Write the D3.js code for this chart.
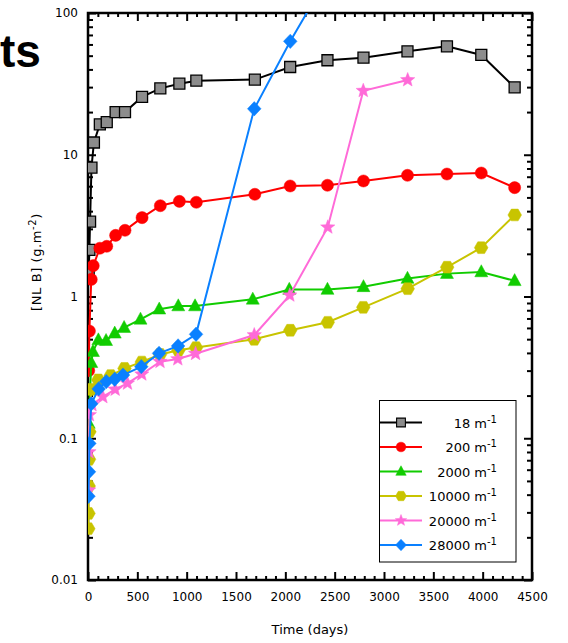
<!DOCTYPE html>
<html>
<head>
<meta charset="utf-8">
<script src="https://cdn.jsdelivr.net/npm/d3@7"></script>
<style>
  html, body { margin: 0; padding: 0; background: #fff; }
  svg { display: block; }
  text { font-family: "DejaVu Sans", Verdana, sans-serif; }
</style>
</head>
<body>
<svg id="chart" width="568" height="643"></svg>
<script>
// NL B accumulation over time for six specific-surface values
const seriesNames = ["18", "200", "2000", "10000", "20000", "28000"];

const days18  = [7, 14, 21, 35, 60, 120, 190, 280, 375, 548, 733, 926, 1098, 1691, 2049, 2427, 2792, 3238, 3638, 3986, 4324];
const vals18  = [1.44, 2.13, 3.37, 8.1, 12.2, 16.4, 17.0, 20.0, 20.0, 25.6, 29.4, 31.7, 33.3, 33.9, 41.6, 46.4, 48.4, 53.7, 58.2, 50.6, 29.9];

const days200 = [7, 14, 33, 53, 120, 190, 280, 375, 548, 733, 926, 1098, 1691, 2049, 2427, 2792, 3238, 3638, 3986, 4324];
const vals200 = [0.30, 0.57, 1.32, 1.65, 2.19, 2.26, 2.70, 2.93, 3.60, 4.37, 4.69, 4.62, 5.26, 6.02, 6.09, 6.53, 7.16, 7.31, 7.43, 5.86];

const days2000 = [7, 33, 50, 105, 183, 271, 366, 532, 722, 915, 1085, 1670, 2040, 2427, 2792, 3238, 3638, 3986, 4324];
const vals2000 = [0.127, 0.341, 0.408, 0.493, 0.488, 0.550, 0.603, 0.690, 0.813, 0.857, 0.857, 0.955, 1.12, 1.12, 1.17, 1.34, 1.45, 1.49, 1.29];

const days10000 = [3, 5, 7, 10, 14, 33, 105, 230, 370, 545, 730, 916, 1095, 1685, 2050, 2430, 2790, 3240, 3640, 3985, 4325];
const vals10000 = [0.023, 0.0295, 0.046, 0.071, 0.111, 0.221, 0.258, 0.277, 0.311, 0.345, 0.39, 0.417, 0.436, 0.499, 0.578, 0.658, 0.839, 1.135, 1.61, 2.21, 3.76];

const days20000 = [7, 10, 14, 40, 150, 275, 400, 545, 730, 910, 1090, 1685, 2045, 2430, 2790, 3240];
const vals20000 = [0.043, 0.080, 0.146, 0.172, 0.196, 0.221, 0.244, 0.283, 0.347, 0.362, 0.395, 0.535, 1.02, 3.08, 28.3, 33.7];

const days28000 = [5, 10, 14, 33, 108, 185, 271, 355, 540, 720, 913, 1095, 1685, 2050, 2430];
const vals28000 = [0.039, 0.058, 0.092, 0.175, 0.223, 0.251, 0.261, 0.279, 0.320, 0.397, 0.448, 0.541, 21.1, 63.1, 180];

const xTicks = [0, 500, 1000, 1500, 2000, 2500, 3000, 3500, 4000, 4500];
const yTicks = [0.01, 0.1, 1, 10, 100];
const yTickLabels = ["0.01", "0.1", "1", "10", "100"];

const colors = ["#000000", "#ff0000", "#11cc00", "#c8c400", "#ff6ad8", "#0a80ff"];
const fills  = ["#8c8c8c", "#ff0000", "#11cc00", "#c8c400", "#ff6ad8", "#0a80ff"];
const shapes = ["square", "circle", "triangle", "hexagon", "star", "diamond"];

const allDays = [days18, days200, days2000, days10000, days20000, days28000];
const allVals = [vals18, vals200, vals2000, vals10000, vals20000, vals28000];

const series = seriesNames.map((name, i) => ({
  name, color: colors[i], fill: fills[i], shape: shapes[i],
  points: allDays[i].map((d, j) => ({ t: d, v: allVals[i][j] }))
}));

const svg = d3.select("#chart");
const L = 88, R = 532, T = 13, B = 580;

const x = d3.scaleLinear().domain([0, 4500]).range([L, R]);
const y = d3.scaleLog().domain([0.01, 100]).range([B, T]);

// marker shapes
function markerPath(shape, k) {
  const p = d3.path();
  if (shape === "square") {
    const s = 5.5 * k; p.rect(-s, -s, 2 * s, 2 * s); return p.toString();
  }
  if (shape === "circle") {
    return d3.symbol(d3.symbolCircle, 115 * k * k)();
  }
  if (shape === "triangle") {
    const h = 12 * k, w = 13 * k;
    p.moveTo(0, -h * 0.6); p.lineTo(w / 2, h * 0.4); p.lineTo(-w / 2, h * 0.4); p.closePath();
    return p.toString();
  }
  if (shape === "hexagon") {
    const r = 6.8 * k;
    for (let i = 0; i < 6; i++) {
      const a = (Math.PI / 3) * i;
      const px = r * Math.cos(a), py = r * Math.sin(a);
      i === 0 ? p.moveTo(px, py) : p.lineTo(px, py);
    }
    p.closePath(); return p.toString();
  }
  if (shape === "star") {
    const ro = 7.5 * k, ri = 3.2 * k;
    for (let i = 0; i < 10; i++) {
      const a = -Math.PI / 2 + (Math.PI / 5) * i;
      const r = i % 2 ? ri : ro;
      i === 0 ? p.moveTo(r * Math.cos(a), r * Math.sin(a)) : p.lineTo(r * Math.cos(a), r * Math.sin(a));
    }
    p.closePath(); return p.toString();
  }
  // diamond
  const dh = 7.2 * k, dw = 6.8 * k;
  p.moveTo(0, -dh); p.lineTo(dw, 0); p.lineTo(0, dh); p.lineTo(-dw, 0); p.closePath();
  return p.toString();
}

// clip region for data
svg.append("defs").append("clipPath").attr("id", "plotClip")
  .append("rect").attr("x", L).attr("y", T).attr("width", R - L).attr("height", B - T);

// title fragment
svg.append("text")
  .attr("x", 0).attr("y", 67)
  .style("font-family", "'Liberation Sans', Arial, sans-serif")
  .style("font-weight", "bold").style("font-size", "46px")
  .text("ts");

// axes: ticks point inward on all four sides
const minorX = d3.range(0, 4501, 100).filter(v => v % 500 !== 0);
const minorY = [];
[0.01, 0.1, 1, 10].forEach(d => { for (let m = 2; m <= 9; m++) minorY.push(d * m); });

function styleAxis(g) {
  g.select(".domain").remove();
  g.selectAll(".tick line").attr("stroke", "#000").attr("stroke-width", 2);
  g.selectAll(".tick text").attr("fill", "#000").style("font-size", "12px")
    .style("font-family", "'DejaVu Sans', Verdana, sans-serif");
}

svg.append("g").attr("transform", `translate(0,${B})`)
  .call(d3.axisBottom(x).tickValues(xTicks).tickSize(-8).tickPadding(12).tickFormat(d3.format("d")))
  .call(styleAxis);
svg.append("g").attr("transform", `translate(0,${B})`)
  .call(d3.axisBottom(x).tickValues(minorX).tickSize(-4).tickFormat(""))
  .call(styleAxis);
svg.append("g").attr("transform", `translate(0,${T})`)
  .call(d3.axisTop(x).tickValues(xTicks).tickSize(-8).tickFormat(""))
  .call(styleAxis);
svg.append("g").attr("transform", `translate(0,${T})`)
  .call(d3.axisTop(x).tickValues(minorX).tickSize(-4).tickFormat(""))
  .call(styleAxis);

svg.append("g").attr("transform", `translate(${L},0)`)
  .call(d3.axisLeft(y).tickValues(yTicks).tickSize(-8).tickPadding(10)
    .tickFormat((d, i) => yTickLabels[i]))
  .call(styleAxis);
svg.append("g").attr("transform", `translate(${L},0)`)
  .call(d3.axisLeft(y).tickValues(minorY).tickSize(-5).tickFormat(""))
  .call(styleAxis);
svg.append("g").attr("transform", `translate(${R},0)`)
  .call(d3.axisRight(y).tickValues(yTicks).tickSize(-8).tickFormat(""))
  .call(styleAxis);
svg.append("g").attr("transform", `translate(${R},0)`)
  .call(d3.axisRight(y).tickValues(minorY).tickSize(-5).tickFormat(""))
  .call(styleAxis);

// frame
svg.append("rect").attr("x", L).attr("y", T).attr("width", R - L).attr("height", B - T)
  .attr("fill", "none").attr("stroke", "#000").attr("stroke-width", 2.5);

// axis titles
svg.append("text").attr("x", 310).attr("y", 634).attr("text-anchor", "middle")
  .style("font-size", "13px").text("Time (days)");

const yt = svg.append("text").attr("transform", "translate(41,262) rotate(-90)")
  .attr("text-anchor", "middle").style("font-size", "13px").style("letter-spacing", "0.6px");
yt.append("tspan").text("[NL B]  (g.m");
yt.append("tspan").attr("dy", -5).style("font-size", "10px").text("-2");
yt.append("tspan").attr("dy", 5).text(")");

// data
const line = d3.line().x(d => x(d.t)).y(d => y(d.v));
const plot = svg.append("g").attr("clip-path", "url(#plotClip)");

series.forEach(s => {
  const g = plot.append("g");
  g.append("path").datum(s.points).attr("d", line)
    .attr("fill", "none").attr("stroke", s.color).attr("stroke-width", 2);
  g.selectAll("path.mk").data(s.points).join("path").attr("class", "mk")
    .attr("transform", d => `translate(${x(d.t)},${y(d.v)})`)
    .attr("d", markerPath(s.shape, 1))
    .attr("fill", s.fill)
    .attr("stroke", s.shape === "square" ? "#000" : s.fill)
    .attr("stroke-width", s.shape === "square" ? 1.3 : 0.5);
});

// legend
const lg = svg.append("g");
lg.append("rect").attr("x", 379.5).attr("y", 400.5).attr("width", 136.5).attr("height", 161.5)
  .attr("fill", "#fff").attr("stroke", "#000").attr("stroke-width", 1);
series.forEach((s, i) => {
  const ry = 422.5 + i * 24.5;
  lg.append("line").attr("x1", 380).attr("x2", 422).attr("y1", ry).attr("y2", ry)
    .attr("stroke", s.color).attr("stroke-width", 2);
  lg.append("path").attr("transform", `translate(401,${ry})`)
    .attr("d", markerPath(s.shape, 0.8))
    .attr("fill", s.fill)
    .attr("stroke", s.shape === "square" ? "#000" : s.fill)
    .attr("stroke-width", s.shape === "square" ? 1.1 : 0.5);
  const t = lg.append("text").attr("x", 497).attr("y", ry + 5).attr("text-anchor", "end")
    .style("font-size", "13px");
  t.append("tspan").text(`${s.name} m`);
  t.append("tspan").attr("dy", -5).style("font-size", "10px").text("-1");
});
</script>
</body>
</html>
